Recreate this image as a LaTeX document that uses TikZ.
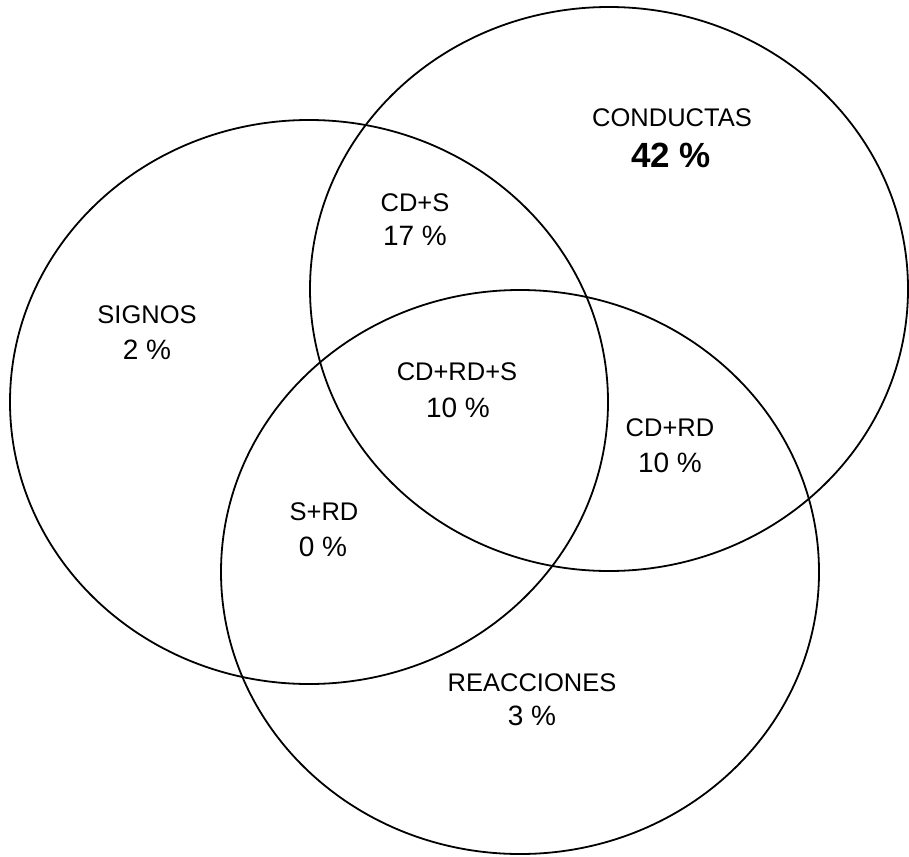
\documentclass[tikz,border=0pt]{standalone}
\usepackage{fontspec}
\setmainfont{Liberation Sans}
\usetikzlibrary{shapes.geometric}
\newcommand\vlblfont{\fontsize{25.5}{25.5}\selectfont}
\newcommand\vpctfont{\fontsize{28}{28}\selectfont}
\newcommand\vbigfont{\fontsize{35}{35}\selectfont\bfseries}
\tikzset{
  setoval/.style={draw=black, line width=1.8pt, ellipse, inner sep=0pt,
    minimum width=598pt, minimum height=564pt},
  setlbl/.style={inner sep=0pt, anchor=center, font=\vlblfont},
  setpct/.style={inner sep=0pt, anchor=center, font=\vpctfont},
  setbig/.style={inner sep=0pt, anchor=center, font=\vbigfont}
}
\begin{document}
\begin{tikzpicture}[x=1pt, y=-1pt]
\useasboundingbox[fill=white] (0,0) rectangle (909,856);
\node[setoval] (cond) at (609,289) {};
\node[setoval] (sig) at (309,402) {};
\node[setoval] (reac) at (520,572) {};

\node[setlbl] (tcond) at (672,118) {CONDUCTAS};
\node[setbig] (pcond) at (671,155) {42 \%};
\node[setlbl] (tcds) at (415,203) {CD+S};
\node[setpct] (pcds) at (415,236) {17 \%};
\node[setlbl] (tsig) at (147,315) {SIGNOS};
\node[setpct] (psig) at (147,350) {2 \%};
\node[setlbl] (tall) at (457,372) {CD+RD+S};
\node[setpct] (pall) at (458,408) {10 \%};
\node[setlbl] (tcdrd) at (670,428) {CD+RD};
\node[setpct] (pcdrd) at (670,463) {10 \%};
\node[setlbl] (tsrd) at (324,512) {S+RD};
\node[setpct] (psrd) at (323,547) {0 \%};
\node[setlbl] (treac) at (532,683) {REACCIONES};
\node[setpct] (preac) at (532,716) {3 \%};
\end{tikzpicture}
\end{document}
